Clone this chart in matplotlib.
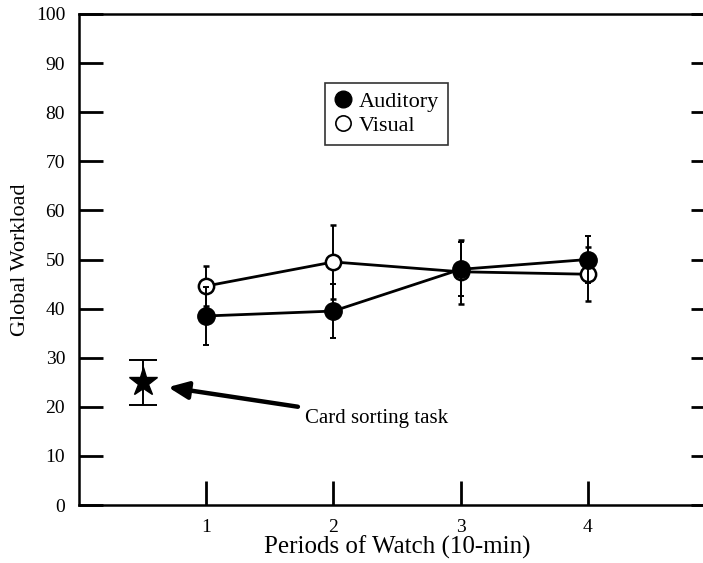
import matplotlib.pyplot as plt
from matplotlib.lines import Line2D

periods = [1, 2, 3, 4]
auditory = [38.5, 39.5, 48.0, 50.0]
auditory_err = [6.0, 5.5, 5.5, 4.8]
visual = [44.6, 49.5, 47.5, 47.0]
visual_err = [4.0, 7.5, 6.5, 5.5]
card_x = 0.5
card_y = 25.0
card_err = 4.6

plt.rcParams['font.family'] = ['Liberation Serif', 'DejaVu Serif']

fig = plt.figure(figsize=(7.03, 5.63), dpi=100)
ax = fig.add_axes([79 / 703, 58 / 563, 636 / 703, 491 / 563])

# lines with error bars
ax.errorbar(periods, visual, yerr=visual_err, color='black', lw=2,
            marker='o', ms=11, mfc='white', mec='black', mew=1.8,
            elinewidth=1.4, capsize=2.5, capthick=1.4, zorder=3)
ax.errorbar(periods, auditory, yerr=auditory_err, color='black', lw=2,
            marker='o', ms=12.5, mfc='black', mec='black',
            elinewidth=1.4, capsize=2.5, capthick=1.4, zorder=4)

# card sorting task
ax.errorbar([card_x], [card_y], yerr=[card_err], color='black', marker='*',
            ms=21, elinewidth=1.4, capsize=10, capthick=1.4, ls='none')
ax.annotate('Card sorting task', xy=(0.70, 24.0), xytext=(1.775, 17.6),
            fontsize=15, va='center', ha='left',
            arrowprops=dict(arrowstyle='-|>,head_length=0.8,head_width=0.35',
                            color='black', lw=3.2, shrinkA=3, shrinkB=0))

ax.set_xlim(0, 5)
ax.set_ylim(0, 100)
ax.set_xticks(periods)
ax.set_yticks(range(0, 101, 10))
ax.tick_params(axis='both', direction='in', length=17, width=2, labelsize=14)
ax.tick_params(axis='y', right=True, pad=10)
ax.tick_params(axis='x', pad=10)
for s in ax.spines.values():
    s.set_linewidth(1.8)

ax.set_xlabel('Periods of Watch (10-min)', fontsize=18, labelpad=0)
ax.set_ylabel('Global Workload', fontsize=16, labelpad=4)

handles = [
    Line2D([], [], ls='none', marker='o', ms=12, mfc='black', mec='black'),
    Line2D([], [], ls='none', marker='o', ms=11, mfc='white', mec='black', mew=1.2),
]
leg = ax.legend(handles, ['Auditory', 'Visual'], loc='upper left',
                bbox_to_anchor=(0.387, 0.86), fontsize=16, frameon=True,
                fancybox=False, edgecolor='black', handlelength=0.8,
                handletextpad=0.3, borderpad=0.4, labelspacing=0.15,
                borderaxespad=0)
leg.get_frame().set_linewidth(1.2)

fig.savefig('out.png', dpi=100)
